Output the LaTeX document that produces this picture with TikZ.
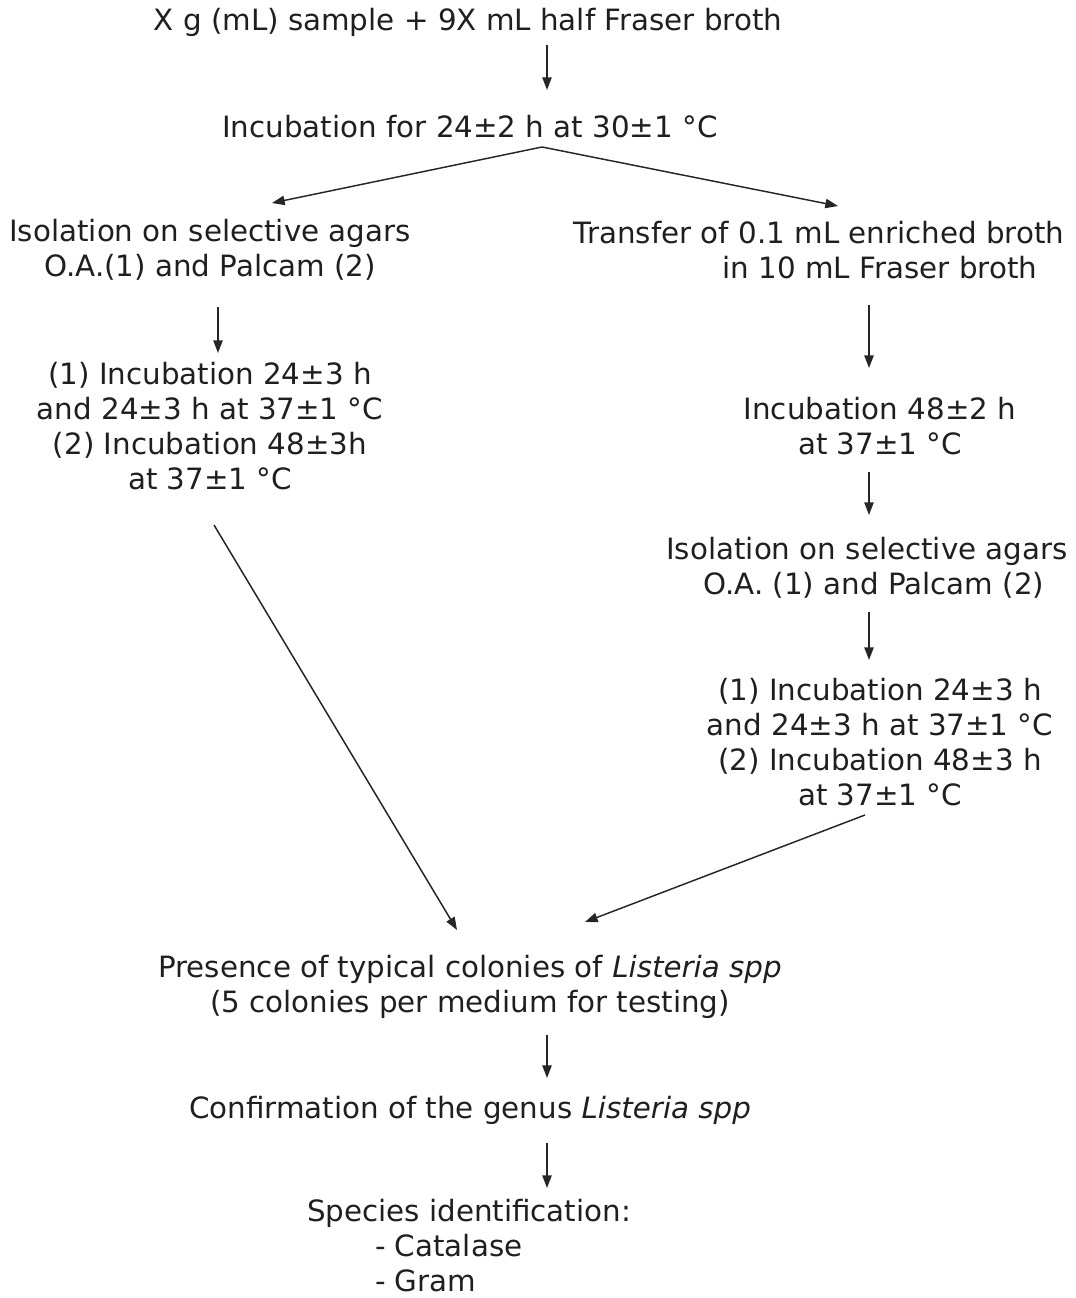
\documentclass[tikz,border=0pt]{standalone}
\usepackage{fontspec}
\setmainfont{DejaVu Sans}
\usetikzlibrary{arrows.meta}
\begin{document}
\begin{tikzpicture}[x=0.75pt,y=-0.75pt,
  txt/.style={inner sep=0pt, font=\fontsize{22}{26.25}\selectfont, text=black!88, align=center},
  arr/.style={-{Triangle[length=9.5pt,width=7pt]}, line width=1.1pt, draw=black!85}]
\useasboundingbox (0,0) rectangle (1075,1298);

\node[txt] (n1) at (468,22) {X g (mL) sample + 9X mL half Fraser broth};
\node[txt] (n2) at (470,127) {Incubation for 24±2 h at 30±1 °C};
\node[txt] (n3) at (210,250) {Isolation on selective agars\\O.A.(1) and Palcam (2)};
\node[txt, align=left] (n4) at (819,250) {Transfer of 0.1 mL enriched broth\\\hspace*{111.75pt}in 10 mL Fraser broth};
\node[txt] (n5) at (210,426) {(1) Incubation 24±3 h\\and 24±3 h at 37±1 °C\\(2) Incubation 48±3h\\at 37±1 °C};
\node[txt] (n6) at (880,426) {Incubation 48±2 h\\at 37±1 °C};
\node[txt, align=left] (n7) at (867,568) {Isolation on selective agars\\\hspace*{27.75pt}O.A. (1) and Palcam (2)};
\node[txt] (n8) at (880,742) {(1) Incubation 24±3 h\\and 24±3 h at 37±1 °C\\(2) Incubation 48±3 h\\at 37±1 °C};
\node[txt] (n9) at (470,987) {Presence of typical colonies of \textit{Listeria spp}\\(5 colonies per medium for testing)};
\node[txt] (n10) at (470,1110) {Confirmation of the genus \textit{Listeria spp}};
\node[txt, align=left] (n11) at (469,1246) {Species identification:\\\hspace*{51pt}- Catalase\\\hspace*{51pt}- Gram};

\draw[arr] ([shift={(79,23)}]n1.center) -- ([shift={(77,-37)}]n2.center);
\draw[arr] ([shift={(72,20)}]n2.center) -- ([shift={(62,-47)}]n3.center);
\draw[arr] ([shift={(72,20)}]n2.center) -- ([shift={(19,-44)}]n4.center);
\draw[arr] ([shift={(8,57)}]n3.center) -- ([shift={(8,-73)}]n5.center);
\draw[arr] ([shift={(50,55)}]n4.center) -- ([shift={(-11,-58)}]n6.center);
\draw[arr] ([shift={(-11,46)}]n6.center) -- ([shift={(2,-53)}]n7.center);
\draw[arr] ([shift={(2,44)}]n7.center) -- ([shift={(-11,-82)}]n8.center);
\draw[arr] ([shift={(4,99)}]n5.center) -- ([shift={(-13,-57)}]n9.center);
\draw[arr] ([shift={(-15,73)}]n8.center) -- ([shift={(115,-65)}]n9.center);
\draw[arr] ([shift={(77,48)}]n9.center) -- ([shift={(77,-32)}]n10.center);
\draw[arr] ([shift={(77,33)}]n10.center) -- ([shift={(78,-58)}]n11.center);
\end{tikzpicture}
\end{document}
